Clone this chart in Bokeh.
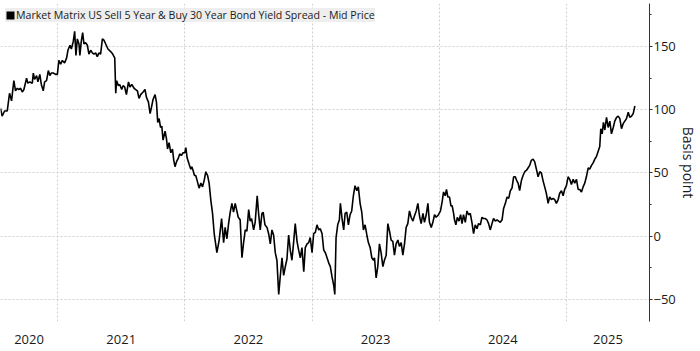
from bokeh.plotting import figure
from bokeh.models import (Range1d, FixedTicker, SingleIntervalTicker, CustomJSTickFormatter,
                          Legend, LegendItem)
from bokeh.embed import file_html
from bokeh.resources import INLINE

# ---------------- data ----------------
series_name = "Market Matrix US Sell 5 Year & Buy 30 Year Bond Yield Spread - Mid Price"
axis_title = "Basis point"
year_labels = ["2020", "2021", "2022", "2023", "2024", "2025"]

years = [
    2020.551, 2020.564, 2020.583, 2020.604, 2020.622, 2020.638, 2020.656, 2020.669, 2020.683, 2020.695,
    2020.709, 2020.722, 2020.735, 2020.756, 2020.766, 2020.782, 2020.801, 2020.809, 2020.819, 2020.835,
    2020.845, 2020.860, 2020.872, 2020.887, 2020.898, 2020.913, 2020.927, 2020.939, 2020.950, 2020.966,
    2020.984, 2020.998, 2021.010, 2021.024, 2021.037, 2021.055, 2021.071, 2021.081, 2021.097, 2021.108,
    2021.123, 2021.134, 2021.144, 2021.155, 2021.168, 2021.175, 2021.186, 2021.197, 2021.207, 2021.220,
    2021.234, 2021.246, 2021.260, 2021.273, 2021.286, 2021.299, 2021.312, 2021.325, 2021.338, 2021.352,
    2021.364, 2021.378, 2021.396, 2021.417, 2021.433, 2021.449, 2021.457,
    2021.464, 2021.478, 2021.488, 2021.504, 2021.514, 2021.527, 2021.541, 2021.557, 2021.569, 2021.583,
    2021.601, 2021.614, 2021.627, 2021.640, 2021.653, 2021.672, 2021.687, 2021.698, 2021.714, 2021.727,
    2021.738, 2021.750, 2021.766, 2021.777, 2021.787, 2021.798, 2021.809, 2021.819, 2021.829, 2021.845,
    2021.856, 2021.864, 2021.876, 2021.890, 2021.903, 2021.913, 2021.923, 2021.935, 2021.950, 2021.960,
    2021.974, 2021.986, 2022.000, 2022.008, 2022.018, 2022.034, 2022.047, 2022.055, 2022.065, 2022.076,
    2022.086, 2022.097, 2022.112, 2022.126, 2022.139, 2022.152, 2022.165, 2022.179, 2022.191, 2022.205,
    2022.218, 2022.231,
    2022.252, 2022.270, 2022.289, 2022.305, 2022.317, 2022.331, 2022.344, 2022.357, 2022.370, 2022.383,
    2022.396, 2022.409, 2022.420, 2022.435, 2022.449, 2022.462, 2022.475, 2022.488, 2022.502, 2022.514,
    2022.525, 2022.541, 2022.553, 2022.569, 2022.580, 2022.593, 2022.606, 2022.616, 2022.630, 2022.646,
    2022.659, 2022.672, 2022.685, 2022.698, 2022.711, 2022.724, 2022.738, 2022.750, 2022.764, 2022.777,
    2022.790, 2022.803, 2022.816, 2022.829, 2022.842, 2022.856, 2022.868, 2022.882, 2022.895, 2022.908,
    2022.921, 2022.935, 2022.947, 2022.961, 2022.974, 2022.986, 2023.000, 2023.013, 2023.026, 2023.039,
    2023.053, 2023.065, 2023.079, 2023.092, 2023.105, 2023.118, 2023.131, 2023.144, 2023.157, 2023.171,
    2023.179, 2023.189, 2023.202, 2023.215, 2023.223, 2023.236, 2023.249, 2023.260, 2023.273, 2023.286,
    2023.299, 2023.312, 2023.325, 2023.338, 2023.352, 2023.364, 2023.378, 2023.391, 2023.404, 2023.417,
    2023.431, 2023.443, 2023.457, 2023.470, 2023.483, 2023.491, 2023.504, 2023.517, 2023.530, 2023.543,
    2023.557, 2023.569, 2023.583, 2023.596, 2023.609, 2023.622, 2023.635, 2023.648, 2023.661, 2023.675,
    2023.687, 2023.701, 2023.714, 2023.727, 2023.740, 2023.753, 2023.766, 2023.779, 2023.793, 2023.805,
    2023.819, 2023.832, 2023.845,
    2023.858, 2023.872, 2023.884, 2023.898, 2023.911, 2023.923, 2023.937, 2023.950, 2023.963, 2023.976,
    2023.994, 2024.010, 2024.024, 2024.034, 2024.047, 2024.057, 2024.068, 2024.081, 2024.092, 2024.102,
    2024.113, 2024.120, 2024.131, 2024.142, 2024.155, 2024.168, 2024.179, 2024.191, 2024.205, 2024.218,
    2024.231, 2024.244, 2024.257, 2024.270, 2024.283, 2024.297, 2024.309, 2024.323, 2024.336, 2024.349,
    2024.362, 2024.375, 2024.388, 2024.401, 2024.415, 2024.427, 2024.441, 2024.454, 2024.467, 2024.480,
    2024.494, 2024.506, 2024.520, 2024.533, 2024.546, 2024.559, 2024.572, 2024.585, 2024.598, 2024.609,
    2024.620, 2024.632, 2024.646, 2024.659, 2024.672, 2024.685, 2024.698, 2024.711, 2024.724, 2024.738,
    2024.750, 2024.764, 2024.777, 2024.790, 2024.803, 2024.816, 2024.829, 2024.842, 2024.856, 2024.868,
    2024.882, 2024.895, 2024.908, 2024.921, 2024.935, 2024.947, 2024.961, 2024.974, 2024.986, 2025.000,
    2025.013, 2025.026, 2025.039, 2025.053, 2025.065, 2025.079, 2025.092, 2025.105, 2025.118, 2025.131,
    2025.144, 2025.157, 2025.171, 2025.183, 2025.197, 2025.210, 2025.223, 2025.236, 2025.249, 2025.262,
    2025.270, 2025.281, 2025.291, 2025.302, 2025.315, 2025.328, 2025.341, 2025.354, 2025.368, 2025.380,
    2025.394, 2025.407, 2025.420, 2025.433, 2025.446, 2025.459, 2025.472, 2025.486, 2025.498, 2025.512,
    2025.525, 2025.538,
]

spread_bp = [
    101, 95, 99, 99, 113, 107, 123, 115, 117, 116,
    117, 114, 116, 125, 121, 122, 121, 129, 124, 127,
    122, 128, 120, 115, 122, 123, 131, 127, 129, 129,
    128, 128, 139, 136, 139, 137, 141, 147, 151, 148,
    154, 162, 143, 156, 152, 143, 154, 161, 152, 153,
    151, 144, 147, 145, 144, 145, 142, 145, 144, 156,
    155, 152, 148, 146, 144, 141, 113,
    123, 119, 120, 116, 119, 118, 112, 122, 118, 120,
    117, 116, 115, 109, 112, 114, 116, 110, 106, 97,
    102, 108, 112, 106, 90, 93, 86, 87, 76, 83,
    77, 69, 74, 66, 69, 60, 55, 59, 62, 65,
    64, 66, 66, 70, 62, 57, 53, 55, 52, 48,
    48, 44, 38, 42, 39, 44, 51, 48, 42, 28,
    18, 2,
    -13, -3, 14, -5, 7, -2, 10, 19, 26, 19,
    26, 20, 15, 13, -17, -5, 5, 4, 21, 12,
    14, 5, 11, 32, 18, 5, 18, 19, 9, 7,
    2, -6, 5, 1, -13, -19, -46, -32, -17, -31,
    -24, -18, 1, -11, -19, -4, 10, -4, -11, -17,
    -9, -28, -9, -6, -5, -1, -13, 2, 3, 9,
    5, 6, 2, -11, -13, -17, -21, -24, -32, -39,
    -46, -1, 9, 13, 26, 14, 5, 18, 19, 9,
    17, 20, 32, 40, 36, 39, 26, 19, 5, 9,
    1, -5, -9, -17, -19, -17, -33, -24, -6, -13,
    -24, -19, -15, 10, 4, -3, -4, -15, -6, -3,
    -8, -5, -15, -6, 7, 10, 20, 15, 12, 16,
    20, 26, 16,
    10, 18, 11, 17, 26, 11, 7, 11, 17, 15,
    17, 20, 28, 35, 32, 37, 31, 31, 24, 24,
    18, 13, 9, 15, 12, 17, 10, 17, 11, 20,
    17, 18, 11, 2, 9, 6, 10, 9, 15, 14,
    14, 13, 10, 5, 10, 14, 12, 13, 12, 11,
    13, 22, 26, 31, 30, 36, 38, 47, 47, 44,
    42, 36, 44, 48, 51, 52, 54, 56, 60, 61,
    59, 53, 47, 51, 50, 44, 39, 34, 26, 31,
    29, 30, 29, 26, 29, 34, 36, 32, 37, 40,
    47, 45, 41, 45, 42, 45, 37, 37, 35, 39,
    42, 47, 54, 53, 56, 58, 61, 63, 67, 71,
    85, 81, 90, 84, 94, 86, 91, 81, 86, 91,
    94, 95, 93, 85, 89, 91, 93, 98, 94, 95,
    97, 103,
]

# ---------------- layout / styling ----------------
X0, X1 = 2020.551, 2025.653
Y0, Y1 = -67.4, 184.0
FONT = "Open Sans"
TXT = "#1a1a1a"

p = figure(width=700, height=351, output_backend="svg", toolbar_location=None,
           x_range=Range1d(X0, X1), y_range=Range1d(Y0, Y1),
           y_axis_location="right",
           min_border_left=0, min_border_top=3, min_border_right=50, min_border_bottom=30)
p.outline_line_color = None
p.background_fill_color = "white"
p.border_fill_color = "white"

series = p.line(years, spread_bp, line_color="black", line_width=1.6)

# zero-area swatch on the last data point, only used to draw the legend's square
swatch = p.quad(left=years[-1:], right=years[-1:], top=spread_bp[-1:], bottom=spread_bp[-1:],
                fill_color="black", line_color=None)
legend = Legend(items=[LegendItem(label=series_name, renderers=[swatch], index=0)],
                location="top_left", margin=5, padding=4, spacing=0,
                glyph_width=10, glyph_height=10, label_standoff=1, label_height=14,
                label_text_font=FONT, label_text_font_size="10.6px", label_text_color=TXT,
                background_fill_color="#ebebeb", background_fill_alpha=0.85,
                border_line_color=None)
p.add_layout(legend)

# y axis (right)
yax = p.yaxis[0]
yax.ticker = SingleIntervalTicker(interval=50, num_minor_ticks=2)
yax.axis_label = axis_title
yax.axis_label_text_font = FONT
yax.axis_label_text_font_size = "14px"
yax.axis_label_text_font_style = "normal"
yax.axis_label_text_color = TXT
yax.axis_label_standoff = 0
yax.axis_line_color = "#333333"
yax.major_tick_line_color = "#333333"
yax.minor_tick_line_color = "#333333"
yax.major_tick_in = 0
yax.major_tick_out = 3
yax.minor_tick_in = 0
yax.minor_tick_out = 2
yax.major_label_standoff = 1
yax.major_label_text_font = FONT
yax.major_label_text_font_size = "13px"
yax.major_label_text_color = TXT

# x axis: year labels centred on the visible part of each year
label_pos = [(max(int(y), X0) + min(int(y) + 1, X1)) / 2 for y in year_labels]
xax = p.xaxis[0]
xax.ticker = FixedTicker(ticks=label_pos)
xax.formatter = CustomJSTickFormatter(code="return String(Math.floor(tick));")
xax.axis_line_color = None
xax.major_tick_line_color = None
xax.minor_tick_line_color = None
xax.major_label_standoff = 7
xax.major_label_text_font = FONT
xax.major_label_text_font_size = "13px"
xax.major_label_text_color = TXT

# grids
p.xgrid.ticker = FixedTicker(ticks=[int(y) for y in year_labels[1:]])
for g in (p.xgrid[0], p.ygrid[0]):
    g.grid_line_color = "#cfcfcf"
    g.grid_line_dash = "2 2"
    g.grid_line_width = 1

open("out.html", "w").write(file_html(p, INLINE))
